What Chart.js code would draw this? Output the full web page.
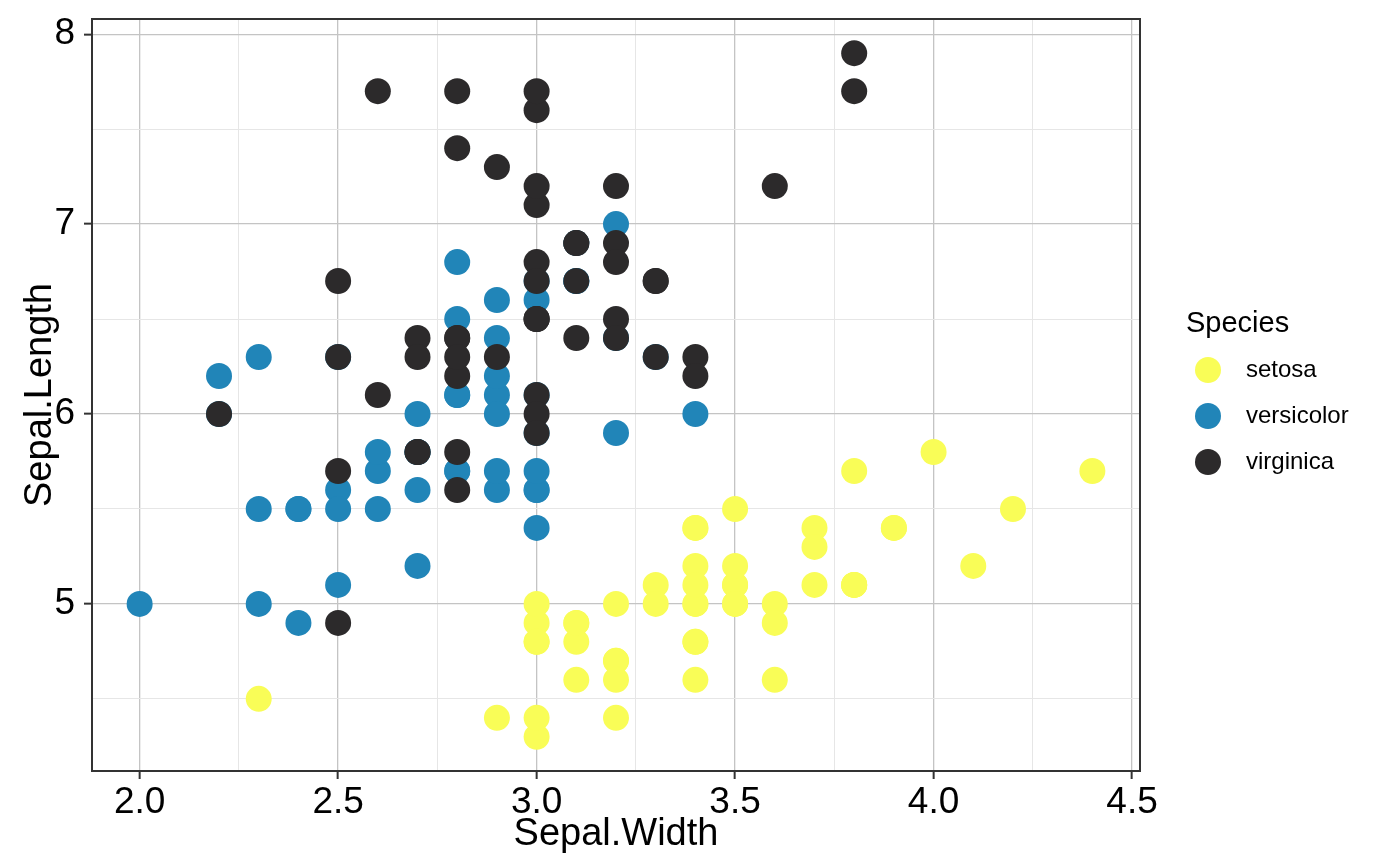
<!DOCTYPE html>
<html>
<head>
<meta charset="utf-8">
<script src="https://cdn.jsdelivr.net/npm/chart.js@4.4.1/dist/chart.umd.min.js"></script>
<style>
  html, body { margin: 0; padding: 0; background: #fff; }
  canvas { display: block; }
</style>
</head>
<body>
<canvas id="iris-chart" width="1400" height="866"></canvas>
<script>
const setosaWidth = [3.5,3.0,3.2,3.1,3.6,3.9,3.4,3.4,2.9,3.1,3.7,3.4,3.0,3.0,4.0,4.4,3.9,3.5,3.8,3.8,
                     3.4,3.7,3.6,3.3,3.4,3.0,3.4,3.5,3.4,3.2,3.1,3.4,4.1,4.2,3.1,3.2,3.5,3.6,3.0,3.4,
                     3.5,2.3,3.2,3.5,3.8,3.0,3.8,3.2,3.7,3.3];
const setosaLength = [5.1,4.9,4.7,4.6,5.0,5.4,4.6,5.0,4.4,4.9,5.4,4.8,4.8,4.3,5.8,5.7,5.4,5.1,5.7,5.1,
                      5.4,5.1,4.6,5.1,4.8,5.0,5.0,5.2,5.2,4.7,4.8,5.4,5.2,5.5,4.9,5.0,5.5,4.9,4.4,5.1,
                      5.0,4.5,4.4,5.0,5.1,4.8,5.1,4.6,5.3,5.0];

const versicolorWidth = [3.2,3.2,3.1,2.3,2.8,2.8,3.3,2.4,2.9,2.7,2.0,3.0,2.2,2.9,2.9,3.1,3.0,2.7,2.2,2.5,
                         3.2,2.8,2.5,2.8,2.9,3.0,2.8,3.0,2.9,2.6,2.4,2.4,2.7,2.7,3.0,3.4,3.1,2.3,3.0,2.5,
                         2.6,3.0,2.6,2.3,2.7,3.0,2.9,2.9,2.5,2.8];
const versicolorLength = [7.0,6.4,6.9,5.5,6.5,5.7,6.3,4.9,6.6,5.2,5.0,5.9,6.0,6.1,5.6,6.7,5.6,5.8,6.2,5.6,
                          5.9,6.1,6.3,6.1,6.4,6.6,6.8,6.7,6.0,5.7,5.5,5.5,5.8,6.0,5.4,6.0,6.7,6.3,5.6,5.5,
                          5.5,6.1,5.8,5.0,5.6,5.7,5.7,6.2,5.1,5.7];

const virginicaWidth = [3.3,2.7,3.0,2.9,3.0,3.0,2.5,2.9,2.5,3.6,3.2,2.7,3.0,2.5,2.8,3.2,3.0,3.8,2.6,2.2,
                        3.2,2.8,2.8,2.7,3.3,3.2,2.8,3.0,2.8,3.0,2.8,3.8,2.8,2.8,2.6,3.0,3.4,3.1,3.0,3.1,
                        3.1,3.1,2.7,3.2,3.3,3.0,2.5,3.0,3.4,3.0];
const virginicaLength = [6.3,5.8,7.1,6.3,6.5,7.6,4.9,7.3,6.7,7.2,6.5,6.4,6.8,5.7,5.8,6.4,6.5,7.7,7.7,6.0,
                         6.9,5.6,7.7,6.3,6.7,7.2,6.2,6.1,6.4,7.2,7.4,7.9,6.4,6.3,6.1,7.7,6.3,6.4,6.0,6.9,
                         6.7,6.9,5.8,6.8,6.7,6.7,6.3,6.5,6.2,5.9];

const speciesNames = ['setosa', 'versicolor', 'virginica'];
const speciesColors = ['#f9fd57', '#2185b8', '#2c2a2b'];

const xMajorTicks = [2.0, 2.5, 3.0, 3.5, 4.0, 4.5];
const xMinorTicks = [2.25, 2.75, 3.25, 3.75, 4.25];
const yMajorTicks = [5, 6, 7, 8];
const yMinorTicks = [4.5, 5.5, 6.5, 7.5];

const FONT = '"Liberation Sans", Arial, sans-serif';

function toPoints(xs, ys) {
    return xs.map((x, i) => ({ x: x, y: ys[i] }));
}

function isMajor(list, v) {
    return list.some(m => Math.abs(m - v) < 1e-9);
}

function setTicks(majors, minors) {
    return function (scale) {
        scale.ticks = majors.concat(minors).sort((a, b) => a - b).map(v => ({ value: v }));
    };
}

// panel border drawn on top, like theme_bw
const panelBorder = {
    id: 'panelBorder',
    afterDatasetsDraw(chart) {
        const { ctx, chartArea: a } = chart;
        ctx.save();
        ctx.strokeStyle = '#333333';
        ctx.lineWidth = 2;
        ctx.strokeRect(a.left, a.top, a.right - a.left, a.bottom - a.top);
        ctx.restore();
    }
};

// legend at the right: title + circle keys
const sideLegend = {
    id: 'sideLegend',
    afterDraw(chart) {
        const ctx = chart.ctx;
        ctx.save();
        ctx.fillStyle = '#000';
        ctx.textAlign = 'left';
        ctx.textBaseline = 'alphabetic';
        ctx.font = '29px ' + FONT;
        ctx.fillText('Species', 1186, 332);
        ctx.font = '24px ' + FONT;
        ctx.textBaseline = 'middle';
        chart.data.datasets.forEach((ds, i) => {
            const y = 370 + i * 46;
            ctx.beginPath();
            ctx.fillStyle = ds.backgroundColor;
            ctx.arc(1208, y, 13, 0, Math.PI * 2);
            ctx.fill();
            ctx.fillStyle = '#000';
            ctx.fillText(ds.label, 1246, y);
        });
        ctx.restore();
    }
};

const seriesX = [setosaWidth, versicolorWidth, virginicaWidth];
const seriesY = [setosaLength, versicolorLength, virginicaLength];

new Chart(document.getElementById('iris-chart'), {
    type: 'scatter',
    data: {
        datasets: speciesNames.map((name, i) => ({
            label: name,
            data: toPoints(seriesX[i], seriesY[i]),
            backgroundColor: speciesColors[i],
            borderWidth: 0,
            pointRadius: 13,
            pointHoverRadius: 13,
            order: 3 - i // later species drawn on top
        }))
    },
    options: {
        responsive: false,
        animation: false,
        layout: { autoPadding: false, padding: { top: 19, right: 260, left: 0, bottom: 0 } },
        plugins: {
            legend: { display: false },
            tooltip: { enabled: false }
        },
        scales: {
            x: {
                type: 'linear',
                min: 1.88,
                max: 4.52,
                afterBuildTicks: setTicks(xMajorTicks, xMinorTicks),
                afterFit(scale) { scale.height = 95; },
                border: { display: false },
                grid: {
                    color: c => isMajor(xMajorTicks, c.tick.value) ? '#c4c4c4' : '#e6e6e6',
                    lineWidth: c => isMajor(xMajorTicks, c.tick.value) ? 1.3 : 1,
                    tickColor: c => isMajor(xMajorTicks, c.tick.value) ? '#333333' : 'rgba(0,0,0,0)',
                    tickLength: 8,
                    tickWidth: 2
                },
                ticks: {
                    autoSkip: false,
                    maxRotation: 0,
                    padding: 2,
                    color: '#000',
                    font: { family: FONT, size: 37 },
                    callback: v => isMajor(xMajorTicks, v) ? v.toFixed(1) : ''
                },
                title: {
                    display: true,
                    text: 'Sepal.Width',
                    color: '#000',
                    font: { family: FONT, size: 38 },
                    padding: { top: 0, bottom: 9 }
                }
            },
            y: {
                type: 'linear',
                min: 4.12,
                max: 8.08,
                afterBuildTicks: setTicks(yMajorTicks, yMinorTicks),
                afterFit(scale) { scale.width = 92; scale.paddingTop = 0; scale.paddingBottom = 0; },
                border: { display: false },
                grid: {
                    color: c => isMajor(yMajorTicks, c.tick.value) ? '#c4c4c4' : '#e6e6e6',
                    lineWidth: c => isMajor(yMajorTicks, c.tick.value) ? 1.3 : 1,
                    tickColor: c => isMajor(yMajorTicks, c.tick.value) ? '#333333' : 'rgba(0,0,0,0)',
                    tickLength: 8,
                    tickWidth: 2
                },
                ticks: {
                    autoSkip: false,
                    padding: 9,
                    color: '#000',
                    font: { family: FONT, size: 37 },
                    callback: v => isMajor(yMajorTicks, v) ? String(v) : ''
                },
                title: {
                    display: true,
                    text: 'Sepal.Length',
                    color: '#000',
                    font: { family: FONT, size: 38 },
                    padding: { top: 18, bottom: 0 }
                }
            }
        }
    },
    plugins: [panelBorder, sideLegend]
});
</script>
</body>
</html>
